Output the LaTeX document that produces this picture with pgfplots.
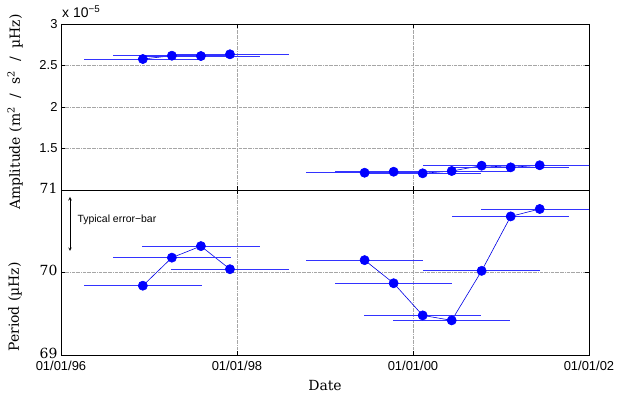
\documentclass[border=0pt]{standalone}
\usepackage{fontspec}
\setmainfont{DejaVu Serif}
\setsansfont{Liberation Sans}
\usepackage{pgfplots}
\pgfplotsset{compat=1.18}
\usepackage{pgfplotstable}

% amplitude in units of 1e-5 m^2/s^2/uHz; ex = half-width of time window
\pgfplotstableread{
x       y      ex
1996.93 2.578  0.667
1997.26 2.618  0.667
1997.59 2.614  0.667
1997.92 2.635  0.667
}\ampA
\pgfplotstableread{
x       y      ex
1999.45 1.208  0.667
1999.78 1.220  0.667
2000.11 1.201  0.667
2000.44 1.229  0.667
2000.78 1.293  0.667
2001.11 1.273  0.667
2001.44 1.298  0.667
}\ampB
\pgfplotstableread{
x       y      ex
1996.93 69.84  0.667
1997.26 70.18  0.667
1997.59 70.32  0.667
1997.92 70.04  0.667
}\perA
\pgfplotstableread{
x       y      ex
1999.45 70.15  0.667
1999.78 69.87  0.667
2000.11 69.48  0.667
2000.44 69.42  0.667
2000.78 70.02  0.667
2001.11 70.68  0.667
2001.44 70.77  0.667
}\perB

\pgfplotsset{
  panel/.style={
    scale only axis, width=528bp,
    xmin=1996, xmax=2002,
    xtick={1996,1998,2000,2002},
    grid=major,
    grid style={gray!70, densely dashdotted, line width=0.3pt},
    axis line style={line width=0.6pt},
    tick style={black, line width=0.5pt},
    major tick length=4bp,
    /pgf/number format/assume math mode=true,
    ticklabel style={font=\sffamily\fontsize{13}{14}\selectfont},
  },
  ser/.style={blue!90!black, line width=0.6pt, mark=*, mark size=4.6bp,
    mark options={fill=blue, draw=blue},
    error bars/.cd, x dir=both, x explicit, error mark=none,
    error bar style={blue!80!white, line width=0.9pt}},
}

\begin{document}
\begin{tikzpicture}
\path[use as bounding box] (-61bp,-38bp) rectangle (561bp,355bp);

\begin{axis}[panel, name=top, at={(0,165bp)}, anchor=south west,
  height=166bp, ymin=1, ymax=3, ytick={1.5,2,2.5,3},
  xticklabels={},
  yticklabel style={/pgf/number format/.cd, fixed, precision=1},
]
  \addplot+[ser] table[x=x, y=y, x error=ex] {\ampA};
  \addplot+[ser] table[x=x, y=y, x error=ex] {\ampB};
\end{axis}
\node[anchor=south west, inner sep=0pt, font=\sffamily\fontsize{14}{15}\selectfont]
  at ([xshift=1bp, yshift=6bp]top.north west) {x 10\textsuperscript{−5}};

\begin{axis}[panel, name=bot, at={(0,0)}, anchor=south west,
  height=165bp, ymin=69, ymax=71, ytick={69,70,71},
  xticklabels={01/01/96,01/01/98,01/01/00,01/01/02},
  xticklabel style={yshift=-2.5bp},
  yticklabel style={font=\rmfamily\fontsize{14}{15}\selectfont, yshift=2bp},
]
  \addplot+[ser] table[x=x, y=y, x error=ex] {\perA};
  \addplot+[ser] table[x=x, y=y, x error=ex] {\perB};
\end{axis}
\draw[<->, >=stealth, black, line width=0.6pt]
  (9bp,158bp) -- (9bp,104bp);
\node[anchor=west, font=\sffamily\fontsize{10.5}{12}\selectfont]
  at (13bp,135bp) {Typical error−bar};

\node[rotate=90, font=\rmfamily\fontsize{14}{16}\selectfont]
  at (-46bp,243bp) {Amplitude (m\textsuperscript{2}\ \ /\ \ s\textsuperscript{2}\ \ /\ \ µHz)};
\node[rotate=90, font=\rmfamily\fontsize{14}{16}\selectfont]
  at (-46bp,48bp) {Period (µHz)};
\node[font=\rmfamily\fontsize{14}{16}\selectfont] at (264bp,-31bp) {Date};
\end{tikzpicture}
\end{document}
